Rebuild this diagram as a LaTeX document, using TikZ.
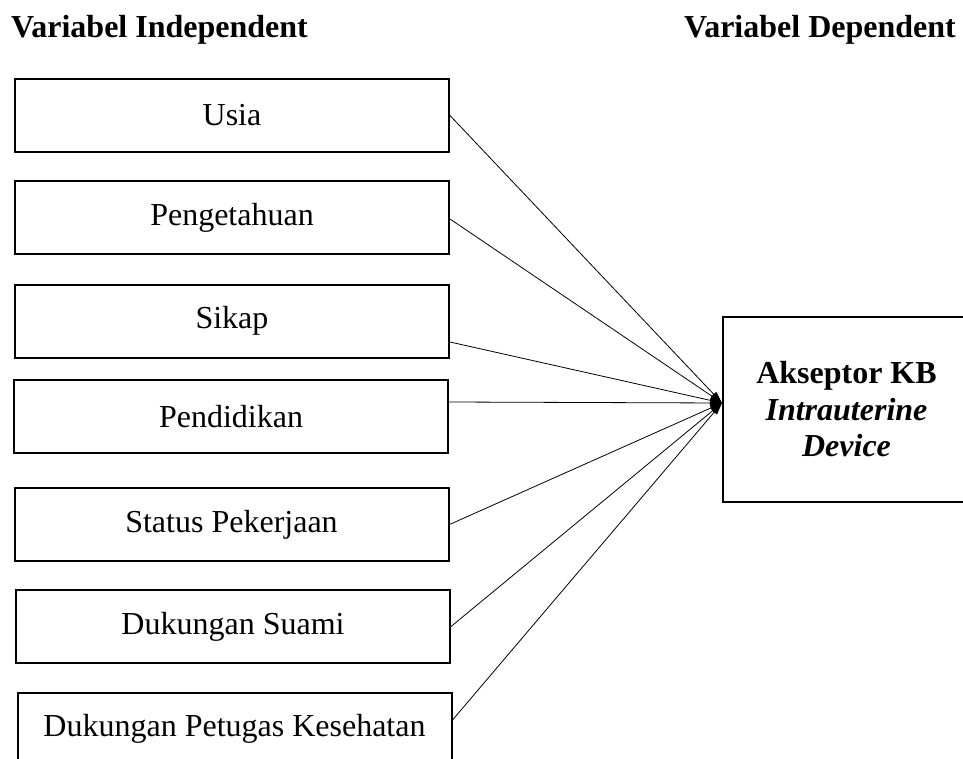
\documentclass[tikz,border=0pt]{standalone}
\usepackage{fontspec}
\setmainfont{Liberation Serif}
\usepackage{tikz}
\usetikzlibrary{arrows.meta}

\begin{document}
\begin{tikzpicture}[>={Triangle[length=12pt,width=7pt]}, x=1pt, y=-1pt,
    kotak/.style={draw, line width=2pt, minimum width=434pt, minimum height=73pt,
      inner sep=0pt, font=\fontsize{32}{36.5}\selectfont},
    judul/.style={inner sep=0pt, font=\fontsize{32}{36}\selectfont\bfseries},
    panah/.style={line width=0.8pt, ->}]
        \useasboundingbox (0,0) rectangle (963,759);
        \clip (0,0) rectangle (963,759);
        % judul kolom
        \node [judul, anchor=base west] (indep) at (11,38) {Variabel Independent};
        \node [judul, anchor=base east] (dep) at (956,38) {Variabel Dependent};
        % variabel independent
        \node [kotak] (usia) at (232,115.5) {Usia};
        \node [kotak] (tahu) at (232,217.5) {Pengetahuan};
        \node [kotak] (sikap) at (232,321) {Sikap};
        \node [kotak] (didik) at (231,416.5) {Pendidikan};
        \node [kotak] (kerja) at (231.5,524.5) {Status Pekerjaan};
        \node [kotak] (suami) at (233,626.5) {Dukungan Suami};
        \node [kotak] (petugas) at (234.5,729) {Dukungan Petugas Kesehatan};
        % variabel dependent
        \node [kotak, minimum width=247pt, minimum height=185pt, align=center] (iud) at (846.5,409.5)
            {\textbf{Akseptor KB}\\\textbf{\textit{Intrauterine}}\\\textbf{\textit{Device}}};
        \coordinate (tuju) at ([yshift=6.5pt]iud.west);
        % panah ke variabel dependent
        \draw [panah] (usia.east) -- (tuju);
        \draw [panah] ([yshift=-1.5pt]tahu.east) -- (tuju);
        \draw [panah] ([yshift=-21pt]sikap.east) -- (tuju);
        \draw [panah] ([yshift=14.5pt]didik.east) -- (tuju);
        \draw [panah] (kerja.east) -- (tuju);
        \draw [panah] (suami.east) -- (tuju);
        \draw [panah] ([yshift=9pt]petugas.east) -- (tuju);
    \end{tikzpicture}
\end{document}
